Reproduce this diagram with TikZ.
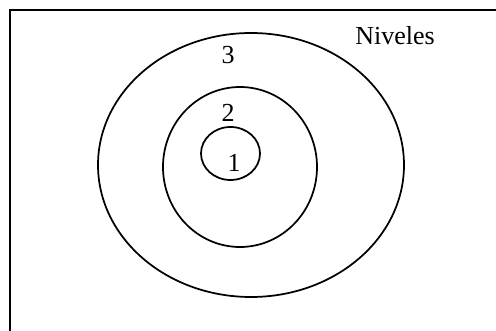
\documentclass[tikz,border=0pt]{standalone}
\usepackage{fontspec}
\setmainfont{Liberation Serif}
\begin{document}
\begin{tikzpicture}[x=0.75pt,y=-0.75pt,
  ring/.style={line width=1.3pt,black},
  lbl/.style={inner sep=0pt,anchor=base,font=\fontsize{19.5pt}{22pt}\selectfont}]
\useasboundingbox (0,0) rectangle (496,331);
\draw[line width=1.5pt,line join=miter] (496,10) -- (10,10) -- (10,331);
\draw[ring] (251,165) ellipse [x radius=153, y radius=132];
\draw[ring] (240,167) ellipse [x radius=77, y radius=80];
\draw[ring] (230.5,153.5) ellipse [x radius=29.5, y radius=26.5];
\node[lbl,anchor=base west] (niv) at (355,45) {Niveles};
\node[lbl] (l3) at (228,64) {3};
\node[lbl] (l2) at (228,122) {2};
\node[lbl] (l1) at (234,172) {1};
\end{tikzpicture}
\end{document}
